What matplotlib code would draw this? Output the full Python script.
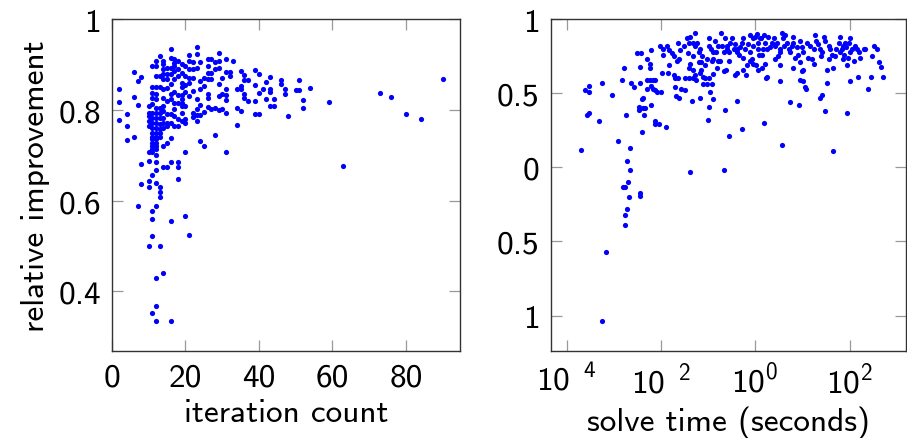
import matplotlib
matplotlib.use("Agg")
import matplotlib.pyplot as plt
import numpy as np

# left panel: iteration count vs relative improvement
iter_count = [
    2, 2, 2, 4, 4, 4, 6, 6, 6, 7, 7, 7, 8, 8, 8,
    10, 10, 10, 10, 10, 11, 11, 11, 12, 12, 12, 11, 12, 13, 14, 16, 16, 20, 21,
    13, 13, 13, 12, 11, 12, 12, 14, 15, 16, 18, 18, 18, 20, 28, 31, 24, 25, 34,
    63, 73, 76, 80, 84, 90, 59, 54, 52, 52, 51, 50, 51, 48, 47, 47, 46, 46,
    44, 44, 43, 43, 43, 43, 42, 42, 41, 40, 40, 39, 39, 39, 39, 40, 37, 36,
    37, 36, 36, 35, 36, 35, 34, 34, 35, 35, 33, 31, 32, 32, 31, 31, 31, 31,
    31, 30, 29, 29, 29, 30, 29, 30, 29, 29, 28, 28, 28, 27, 26, 26, 27, 26,
    27, 26, 26, 26, 27, 26, 25, 24, 24, 25, 24, 23, 23, 23, 21, 21, 22, 21,
    22, 21, 22, 23, 23, 22, 23, 24, 22, 23, 20, 19, 20, 19, 19, 20, 18, 19,
    19, 18, 19, 18, 17, 18, 17, 16, 19, 19, 20, 18, 19, 18, 19, 18, 17, 16,
    16, 17, 16, 15, 14, 14, 12, 13, 11, 12, 16, 17, 15, 14, 16, 15, 14, 13,
    12, 12, 11, 13, 11, 12, 11, 12, 14, 15, 16, 17, 17, 10, 11, 12, 13, 14,
    10, 11, 12, 13, 14, 15, 10, 11, 12, 13, 14, 11, 12, 13, 14, 15, 16, 11,
    12, 13, 14, 15, 10, 10, 11, 12, 13, 11, 12, 13, 11, 12, 11, 12, 11, 12,
    11, 12, 14, 15, 16, 11, 12, 14, 15, 14, 17, 17, 20, 22, 17, 16, 20, 21,
    24, 25, 20, 21,
]
iter_improvement = [
    0.847, 0.818, 0.778, 0.790, 0.765, 0.734, 0.883, 0.829, 0.740, 0.863, 0.811, 0.588, 0.873, 0.680, 0.637,
    0.500, 0.643, 0.630, 0.707, 0.687, 0.578, 0.560, 0.522, 0.587, 0.429, 0.368, 0.353, 0.334, 0.500, 0.440, 0.334, 0.556, 0.565, 0.523,
    0.629, 0.618, 0.607, 0.638, 0.657, 0.668, 0.684, 0.675, 0.675, 0.686, 0.685, 0.673, 0.647, 0.706, 0.744, 0.708, 0.732, 0.720, 0.766,
    0.676, 0.837, 0.828, 0.790, 0.779, 0.869, 0.818, 0.849, 0.821, 0.805, 0.865, 0.844, 0.844, 0.787, 0.846, 0.836, 0.865, 0.856,
    0.823, 0.809, 0.809, 0.846, 0.840, 0.872, 0.862, 0.823, 0.847, 0.838, 0.790, 0.790, 0.854, 0.819, 0.888, 0.879, 0.865, 0.865,
    0.820, 0.835, 0.827, 0.886, 0.878, 0.798, 0.805, 0.847, 0.847, 0.853, 0.907, 0.913, 0.884, 0.874, 0.883, 0.846, 0.832, 0.821,
    0.794, 0.801, 0.926, 0.908, 0.893, 0.871, 0.856, 0.835, 0.831, 0.799, 0.804, 0.905, 0.890, 0.913, 0.913, 0.897, 0.882, 0.882,
    0.868, 0.868, 0.835, 0.827, 0.801, 0.807, 0.853, 0.846, 0.864, 0.871, 0.905, 0.893, 0.938, 0.923, 0.922, 0.907, 0.890, 0.890,
    0.871, 0.871, 0.842, 0.823, 0.801, 0.794, 0.788, 0.788, 0.785, 0.776, 0.772, 0.776, 0.779, 0.794, 0.809, 0.809, 0.832, 0.832,
    0.823, 0.816, 0.816, 0.765, 0.765, 0.779, 0.787, 0.790, 0.851, 0.860, 0.874, 0.875, 0.882, 0.890, 0.901, 0.908, 0.912, 0.934,
    0.915, 0.904, 0.893, 0.893, 0.901, 0.908, 0.908, 0.919, 0.897, 0.897, 0.879, 0.868, 0.868, 0.868, 0.857, 0.849, 0.846, 0.875,
    0.874, 0.851, 0.851, 0.851, 0.838, 0.835, 0.827, 0.824, 0.827, 0.820, 0.824, 0.816, 0.801, 0.809, 0.812, 0.805, 0.805, 0.809,
    0.794, 0.794, 0.794, 0.794, 0.798, 0.790, 0.787, 0.783, 0.783, 0.783, 0.783, 0.772, 0.772, 0.769, 0.770, 0.770, 0.772, 0.760,
    0.760, 0.757, 0.760, 0.764, 0.776, 0.765, 0.749, 0.749, 0.749, 0.741, 0.741, 0.741, 0.735, 0.735, 0.728, 0.728, 0.720, 0.720,
    0.713, 0.713, 0.721, 0.728, 0.739, 0.706, 0.700, 0.890, 0.879, 0.879, 0.897, 0.886, 0.897, 0.905, 0.840, 0.835, 0.840, 0.830,
    0.810, 0.795, 0.855, 0.860,
]

# right panel: solve time (log10 seconds) vs relative improvement
log_solve_time = [
    -3.70, -3.60, -3.53, -3.52, -3.56, -3.52, -3.31, -3.24, -3.03, -3.24, -3.16, -2.92, -2.82, -2.78, -2.75,
    -2.66, -2.71, -2.66, -2.69, -2.81, -2.76, -2.68, -2.71, -2.76, -2.76, -2.44, -2.44, -2.64, -2.57, -2.50,
    -2.42, -2.44, -2.44, -2.41, -2.39, -2.46, -2.46, -2.39, -2.33, -2.35, -2.41, -2.30, -2.23, -2.23, -2.22,
    -2.29, -2.23, -2.17, -2.12, -2.29, -2.22, -2.17, -2.12, -2.08, -1.99, -2.20, -2.12, -2.12, -2.05, -1.89,
    -2.02, -1.95, -1.95, -1.88, -1.82, -1.77, -1.72, -1.66, -1.62, -1.63, -1.98, -1.82, -1.84, -1.72, -1.70,
    -1.63, -1.70, -1.57, -1.49, -1.68, -1.61, -1.49, -1.40, -1.31, -1.25, -1.38, -1.28, -1.40, -1.31, -1.23,
    -1.43, -1.31, -1.20, -1.38, -1.40, -1.31, -1.20, -1.15, -1.15, -1.06, -1.03, -0.99, -0.99, -1.11, -1.06,
    -0.99, -1.10, -1.03, -0.92, -1.35, -1.17, -0.96, -0.90, -0.97, -1.01, -0.89, -0.83, -0.78, -0.82, -0.89,
    -0.74, -0.67, -0.72, -0.64, -0.60, -0.55, -0.50, -0.67, -0.62, -0.64, -0.55, -0.55, -0.67, -1.38, -0.43,
    -0.39, -0.39, -0.32, -0.28, -0.43, -0.39, -0.38, -0.28, -0.25, -0.19, -0.18, -0.26, -0.26, -0.12, -0.05,
    0.00, 0.03, 0.07, 0.10, -0.07, -0.04, -0.11, 0.02, 0.07, 0.14, 0.21, 0.16, 0.18, 0.23, 0.26,
    0.14, 0.21, 0.28, 0.35, 0.42, 0.42, 0.49, 0.53, 0.56, 0.64, 0.67, 0.53, 0.52, 0.56, 0.73,
    0.74, 0.81, 0.85, 0.88, 0.95, 0.81, 0.94, 0.99, 1.01, 0.95, 1.02, 0.92, 1.06, 1.08, 1.17,
    1.20, 1.24, 1.27, 1.34, 1.41, 1.45, 1.38, 1.41, 1.48, 1.52, 1.52, 1.56, 1.59, 1.66, 1.66,
    1.70, 1.77, 1.80, 1.84, 1.87, 1.91, 1.94, 1.94, 1.98, 2.02, 2.02, 2.02, 2.09, 2.16, 2.17,
    2.23, 2.30, 2.40, 2.45, 2.48, 2.51, 2.58, 2.62, 2.67, 2.72,
    -0.60, -0.53, -0.46, -0.35, -0.21, -0.16, -0.11, -0.04, 0.05, 0.09, 0.13, 0.19, 0.25, 0.32, 0.39,
    0.46, 0.52, 0.59, 0.61, 0.71, 0.78, 0.81, 0.90, 0.99, 1.02, 1.10, 1.13, 1.24, 1.29, 1.38,
    1.39, 1.48, 1.56, 1.63, 1.72, 1.79, 1.86, 1.89, 1.93, 1.96, 2.05, 2.12, 2.21, 2.32,
    -1.59, -1.52, -1.45, -1.28, -1.18, -1.13, -0.94, -0.85, -0.79, -0.92, -0.71, -1.17, -0.89, -1.28,
]
time_improvement = [
    0.12, 0.52, 0.51, 0.55, 0.35, 0.37, 0.31, 0.57, 0.49, -1.04, -0.57, 0.18, 0.59, 0.67, 0.35,
    0.13, 0.04, -0.02, -0.10, -0.13, -0.13, -0.20, -0.28, -0.32, -0.39, -0.17, -0.19, 0.57, 0.54, 0.77,
    0.77, 0.68, 0.57, 0.46, 0.47, 0.41, 0.39, 0.40, 0.40, 0.35, 0.24, 0.73, 0.70, 0.67, 0.79,
    0.59, 0.59, 0.59, 0.59, 0.53, 0.55, 0.53, 0.52, 0.51, 0.51, 0.42, 0.31, 0.29, 0.29, 0.27,
    0.82, 0.76, 0.80, 0.82, 0.79, 0.77, 0.75, 0.72, 0.73, 0.84, 0.64, 0.69, 0.64, 0.62, 0.60,
    0.60, 0.54, 0.53, 0.52, 0.48, 0.47, 0.60, 0.60, 0.60, 0.59, 0.88, 0.91, 0.84, 0.84, 0.84,
    0.77, 0.75, 0.78, 0.70, 0.67, 0.66, 0.71, 0.71, 0.66, 0.69, 0.73, 0.82, 0.87, 0.61, 0.60,
    0.60, 0.56, 0.56, 0.56, 0.45, 0.47, 0.51, 0.46, 0.41, 0.32, 0.78, 0.78, 0.72, 0.67, 0.73,
    0.72, 0.78, 0.91, 0.87, 0.82, 0.78, 0.87, 0.65, 0.66, 0.39, 0.72, 0.21, -0.02, -0.03, 0.83,
    0.80, 0.78, 0.81, 0.84, 0.62, 0.64, 0.45, 0.26, 0.66, 0.62, 0.69, 0.87, 0.74, 0.89, 0.87,
    0.88, 0.90, 0.84, 0.87, 0.73, 0.70, 0.72, 0.69, 0.66, 0.67, 0.70, 0.80, 0.30, 0.60, 0.61,
    0.76, 0.84, 0.88, 0.84, 0.82, 0.73, 0.75, 0.80, 0.91, 0.89, 0.84, 0.69, 0.58, 0.15, 0.44,
    0.78, 0.84, 0.74, 0.81, 0.85, 0.67, 0.71, 0.65, 0.66, 0.59, 0.58, 0.42, 0.54, 0.53, 0.82,
    0.73, 0.70, 0.89, 0.83, 0.78, 0.88, 0.47, 0.49, 0.38, 0.57, 0.66, 0.73, 0.80, 0.11, 0.67,
    0.75, 0.84, 0.88, 0.80, 0.73, 0.84, 0.69, 0.37, 0.84, 0.87, 0.78, 0.58, 0.72, 0.80, 0.61,
    0.74, 0.80, 0.53, 0.61, 0.75, 0.82, 0.80, 0.71, 0.68, 0.61,
    0.80, 0.84, 0.80, 0.76, 0.80, 0.83, 0.78, 0.82, 0.80, 0.76, 0.87, 0.89, 0.80, 0.81, 0.87,
    0.84, 0.78, 0.87, 0.82, 0.80, 0.82, 0.88, 0.76, 0.81, 0.78, 0.84, 0.74, 0.80, 0.85, 0.80,
    0.75, 0.85, 0.82, 0.76, 0.80, 0.78, 0.82, 0.76, 0.81, 0.74, 0.80, 0.82, 0.78, 0.80,
    0.79, 0.82, 0.87, 0.82, 0.80, 0.75, 0.80, 0.85, 0.82, 0.72, 0.82, 0.64, 0.63, 0.62,
]

left_yticks = [0.4, 0.6, 0.8, 1.0]
left_ytick_labels = ["0.4", "0.6", "0.8", "1"]
left_xticks = [0, 20, 40, 60, 80]
right_yticks = [-1.0, -0.5, 0.0, 0.5, 1.0]
right_ytick_labels = ["1", "0.5", "0", "0.5", "1"]
right_xticks = [1e-4, 1e-2, 1e0, 1e2]
right_xtick_labels = [r"$10^{\ \ 4}$", r"$10^{\ \ 2}$", r"$10^{0}$", r"$10^{2}$"]

plt.rcParams["font.family"] = "cmss10"
plt.rcParams["mathtext.fontset"] = "custom"
plt.rcParams["mathtext.rm"] = "cmss10"
plt.rcParams["mathtext.it"] = "cmss10"
plt.rcParams["font.size"] = 24
plt.rcParams["axes.unicode_minus"] = False


def style_axes(ax):
    for spine in ax.spines.values():
        spine.set_color("#333333")
        spine.set_linewidth(1.0)
    ax.tick_params(which="both", direction="in", top=True, right=True,
                   length=8, width=0.9, color="#999999", labelsize=24, pad=8)
    ax.tick_params(which="minor", length=0)


fig = plt.figure(figsize=(9.07, 4.39), dpi=100)
ax1 = fig.add_axes([0.1235, 0.198, 0.384, 0.756])
ax2 = fig.add_axes([0.607, 0.198, 0.392, 0.756])

ax1.scatter(iter_count, iter_improvement, s=14, color="#0000ff", linewidths=0)
ax1.set_xlim(0, 94.8)
ax1.set_ylim(0.268, 1.0)
ax1.set_xticks(left_xticks)
ax1.set_yticks(left_yticks)
ax1.set_yticklabels(left_ytick_labels)
ax1.set_xlabel("iteration count", labelpad=5)
ax1.set_ylabel("relative improvement", labelpad=6)
style_axes(ax1)

solve_time = 10.0 ** np.array(log_solve_time)
ax2.scatter(solve_time, time_improvement, s=14, color="#0000ff", linewidths=0)
ax2.set_xscale("log")
ax2.set_xlim(10 ** -4.34, 10 ** 3.2)
ax2.set_ylim(-1.24, 1.0)
ax2.set_xticks(right_xticks)
ax2.set_xticklabels(right_xtick_labels)
ax2.set_yticks(right_yticks)
ax2.set_yticklabels(right_ytick_labels)
ax2.set_xlabel("solve time (seconds)", labelpad=5)
style_axes(ax2)

fig.savefig("out.png", dpi=100)
